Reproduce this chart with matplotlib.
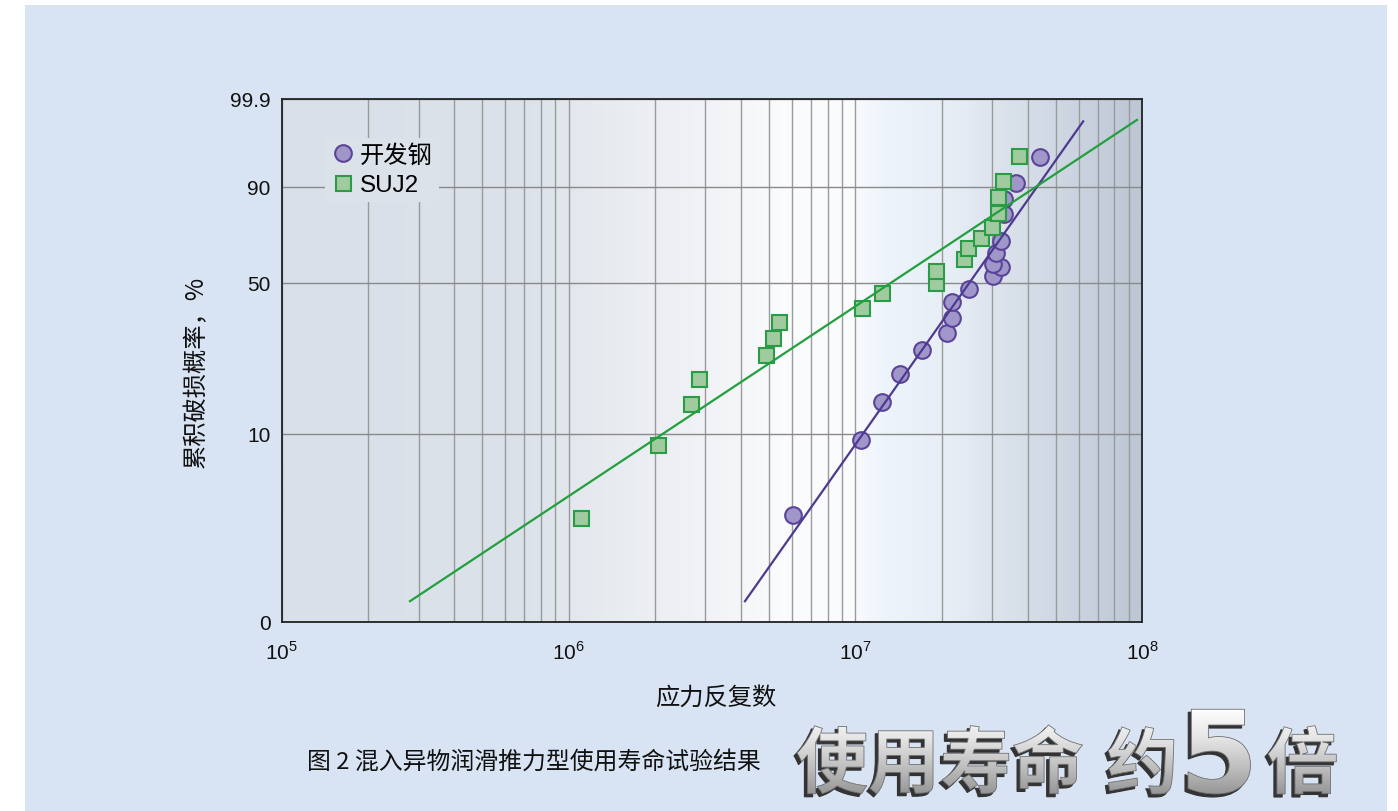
import numpy as np
import matplotlib
matplotlib.use("Agg")
import matplotlib.pyplot as plt
import matplotlib.transforms as mtransforms
from matplotlib.textpath import TextPath
from matplotlib.font_manager import FontProperties
from matplotlib.patches import PathPatch, Rectangle
from matplotlib.colors import LinearSegmentedColormap
from matplotlib.ticker import LogLocator, NullFormatter, FixedLocator, FixedFormatter

plt.rcParams['font.family'] = ['Liberation Sans', 'Noto Sans CJK SC', 'DejaVu Sans']
plt.rcParams['mathtext.fontset'] = 'custom'
plt.rcParams['mathtext.rm'] = 'Liberation Sans'

# 开发钢 (developed steel): cycles and cumulative failure probability (%)
dev_cycles = [6.07e6, 1.043e7, 1.240e7, 1.433e7, 1.709e7, 2.08e7, 2.164e7, 2.164e7, 2.493e7,
              3.022e7, 3.215e7, 3.022e7, 3.088e7, 3.207e7, 3.293e7, 3.293e7, 3.618e7, 4.397e7]
dev_prob = [3.75, 9.23, 14.5, 20.0, 25.8, 31.1, 36.2, 42.0, 47.5,
            53.0, 57.1, 58.3, 63.7, 69.0, 80.5, 86.1, 91.2, 96.5]

# SUJ2
suj_cycles = [1.105e6, 2.045e6, 2.665e6, 2.855e6, 4.877e6, 5.17e6, 5.413e6, 1.056e7, 1.240e7, 1.908e7,
              1.908e7, 2.394e7, 2.460e7, 2.732e7, 2.984e7, 3.131e7, 3.131e7, 3.259e7, 3.715e7]
suj_prob = [3.61, 8.70, 14.1, 18.9, 24.5, 29.5, 34.7, 39.9, 45.9, 49.8,
            55.3, 60.9, 66.0, 70.5, 75.4, 80.9, 86.7, 91.6, 96.6]

# fitted Weibull lines (end points)
dev_fit_x = [4.12e6, 6.22e7]
dev_fit_p = [1.29, 99.46]
suj_fit_x = [2.80e5, 9.58e7]
suj_fit_p = [1.29, 99.51]

y_ticks = [1, 10, 50, 90, 99.9]
y_labels = ["0", "10", "50", "90", "99.9"]
x_ticks = [1e5, 1e6, 1e7, 1e8]
x_labels = [r"$10^{5}$", r"$10^{6}$", r"$10^{7}$", r"$10^{8}$"]


def weib(p):
    p = np.clip(np.asarray(p, dtype=float), 1e-6, 99.99999)
    return np.log(-np.log(1 - p / 100.0))


def weib_inv(w):
    return 100.0 * (1 - np.exp(-np.exp(w)))


W, H = 1398, 812
fig = plt.figure(figsize=(W / 100, H / 100), dpi=100, facecolor="white")
fig.patches.append(Rectangle((25 / W, 0), (1387 - 25) / W, (H - 6) / H,
                             transform=fig.transFigure, facecolor="#d8e3f3",
                             edgecolor="none", zorder=-10))

pos = [281.7 / W, 1 - 622.7 / H, (1142.3 - 281.7) / W, (622.7 - 100) / H]

# background gradient of the plot area
bg = fig.add_axes(pos, zorder=0)
stops = [(0.0, "#d9e0e9"), (0.28, "#dbe2ea"), (0.36, "#e6eaef"), (0.50, "#f1f3f6"),
         (0.58, "#fafbfd"), (0.66, "#fbfcfe"), (0.70, "#eef4fc"), (0.78, "#e7edf5"),
         (0.88, "#d3dbe6"), (1.0, "#bcc6d4")]
cmap = LinearSegmentedColormap.from_list("bg", stops)
bg.imshow(np.linspace(0, 1, 512)[None, :], cmap=cmap, aspect="auto", extent=(0, 1, 0, 1))
bg.axis("off")

ax = fig.add_axes(pos, zorder=1)
ax.set_facecolor("none")
ax.set_xscale("log")
ax.set_yscale("function", functions=(weib, weib_inv))
ax.set_xlim(1e5, 1e8)
ax.set_ylim(1, 99.9)

ax.xaxis.set_major_locator(FixedLocator(x_ticks))
ax.xaxis.set_major_formatter(FixedFormatter(x_labels))
ax.xaxis.set_minor_locator(LogLocator(base=10, subs=np.arange(2, 10)))
ax.xaxis.set_minor_formatter(NullFormatter())
ax.yaxis.set_major_locator(FixedLocator(y_ticks))
ax.yaxis.set_major_formatter(FixedFormatter(y_labels))
ax.yaxis.set_minor_locator(FixedLocator([]))

ax.grid(True, which="both", axis="x", color="#9a9a9a", lw=1.0)
ax.grid(True, which="major", axis="y", color="#8a8a8a", lw=1.0)
ax.set_axisbelow(True)
ax.tick_params(which="both", length=0)
ax.tick_params(axis="x", pad=13, labelsize=15, colors="#111111")
ax.tick_params(axis="y", pad=8, labelsize=15, colors="#111111")
for s in ax.spines.values():
    s.set_color("#222222")
    s.set_linewidth(1.3)

ax.plot(dev_cycles, dev_prob, linestyle="none", marker="o", ms=12,
        mfc="#a196c9", mec="#5a449a", mew=1.5, zorder=3, label="开发钢")
ax.plot(suj_cycles, suj_prob, linestyle="none", marker="s", ms=10.8,
        mfc="#9fcb9f", mec="#2b9c46", mew=1.5, zorder=4, label="SUJ2")
ax.plot(dev_fit_x, dev_fit_p, color="#4e3a91", lw=1.6, zorder=5)
ax.plot(suj_fit_x, suj_fit_p, color="#22a03e", lw=1.6, zorder=5)

leg = ax.legend(loc="upper left", bbox_to_anchor=(0.05, 0.925), borderaxespad=0,
                frameon=True, facecolor="#dbe2ea", edgecolor="none", framealpha=1,
                handletextpad=0.2, handlelength=1.0, borderpad=0.25,
                labelspacing=0.3, prop={"family": ["Liberation Sans", "Noto Sans CJK SC"], "size": 17.5})
leg.set_zorder(6)

cjk = ["Noto Sans CJK SC", "DejaVu Sans"]
fig.text(196 / W, 1 - 372 / H, "累积破损概率，%", rotation=90, ha="center", va="center",
         fontsize=17.5, family=cjk, color="#111111")
fig.text(716 / W, 1 - 698 / H, "应力反复数", ha="center", va="center",
         fontsize=17.5, family=cjk, color="#111111")
fig.text(307 / W, 1 - 762 / H, "图 2 混入异物润滑推力型使用寿命试验结果", ha="left", va="center",
         fontsize=17.2, family=cjk, color="#111111")

# metallic headline
ov = fig.add_axes([0, 0, 1, 1], zorder=10)
ov.set_facecolor("none")
ov.axis("off")
grad = LinearSegmentedColormap.from_list("metal", ["#8e8e8e", "#bdbdbd", "#e6e6e6", "#ffffff"])
bold_cjk = FontProperties(family="Noto Sans CJK SC", weight="bold")
bold_num = FontProperties(family="DejaVu Sans", weight="bold")
pieces = [("使用寿命", bold_cjk, 72, 797), ("约", bold_cjk, 72, 1108),
          ("5", bold_num, 114, 1188), ("倍", bold_cjk, 72, 1268)]
base_bottom = H - 795
for s, fp, size, left in pieces:
    tp = TextPath((0, 0), s, size=size, prop=fp)
    ext = tp.get_extents()
    tr = mtransforms.Affine2D().translate(left - ext.x0, base_bottom - ext.y0)
    shadow = PathPatch(tp, transform=tr + mtransforms.Affine2D().translate(-3, -3) + ov.transData,
                       facecolor="#333333", edgecolor="#333333", lw=0.8, zorder=1)
    ov.add_patch(shadow)
    main = PathPatch(tp, transform=tr + ov.transData, facecolor="none", edgecolor="#707070",
                     lw=0.6, zorder=3)
    ov.add_patch(main)
    im = ov.imshow(np.linspace(0, 1, 256)[:, None], cmap=grad, aspect="auto",
                   extent=(780, 1350, H - 800, H - 708), origin="lower", zorder=2)
    im.set_clip_path(main)
ov.set_xlim(0, W)
ov.set_ylim(0, H)

fig.savefig("out.png", dpi=100, facecolor="white")
